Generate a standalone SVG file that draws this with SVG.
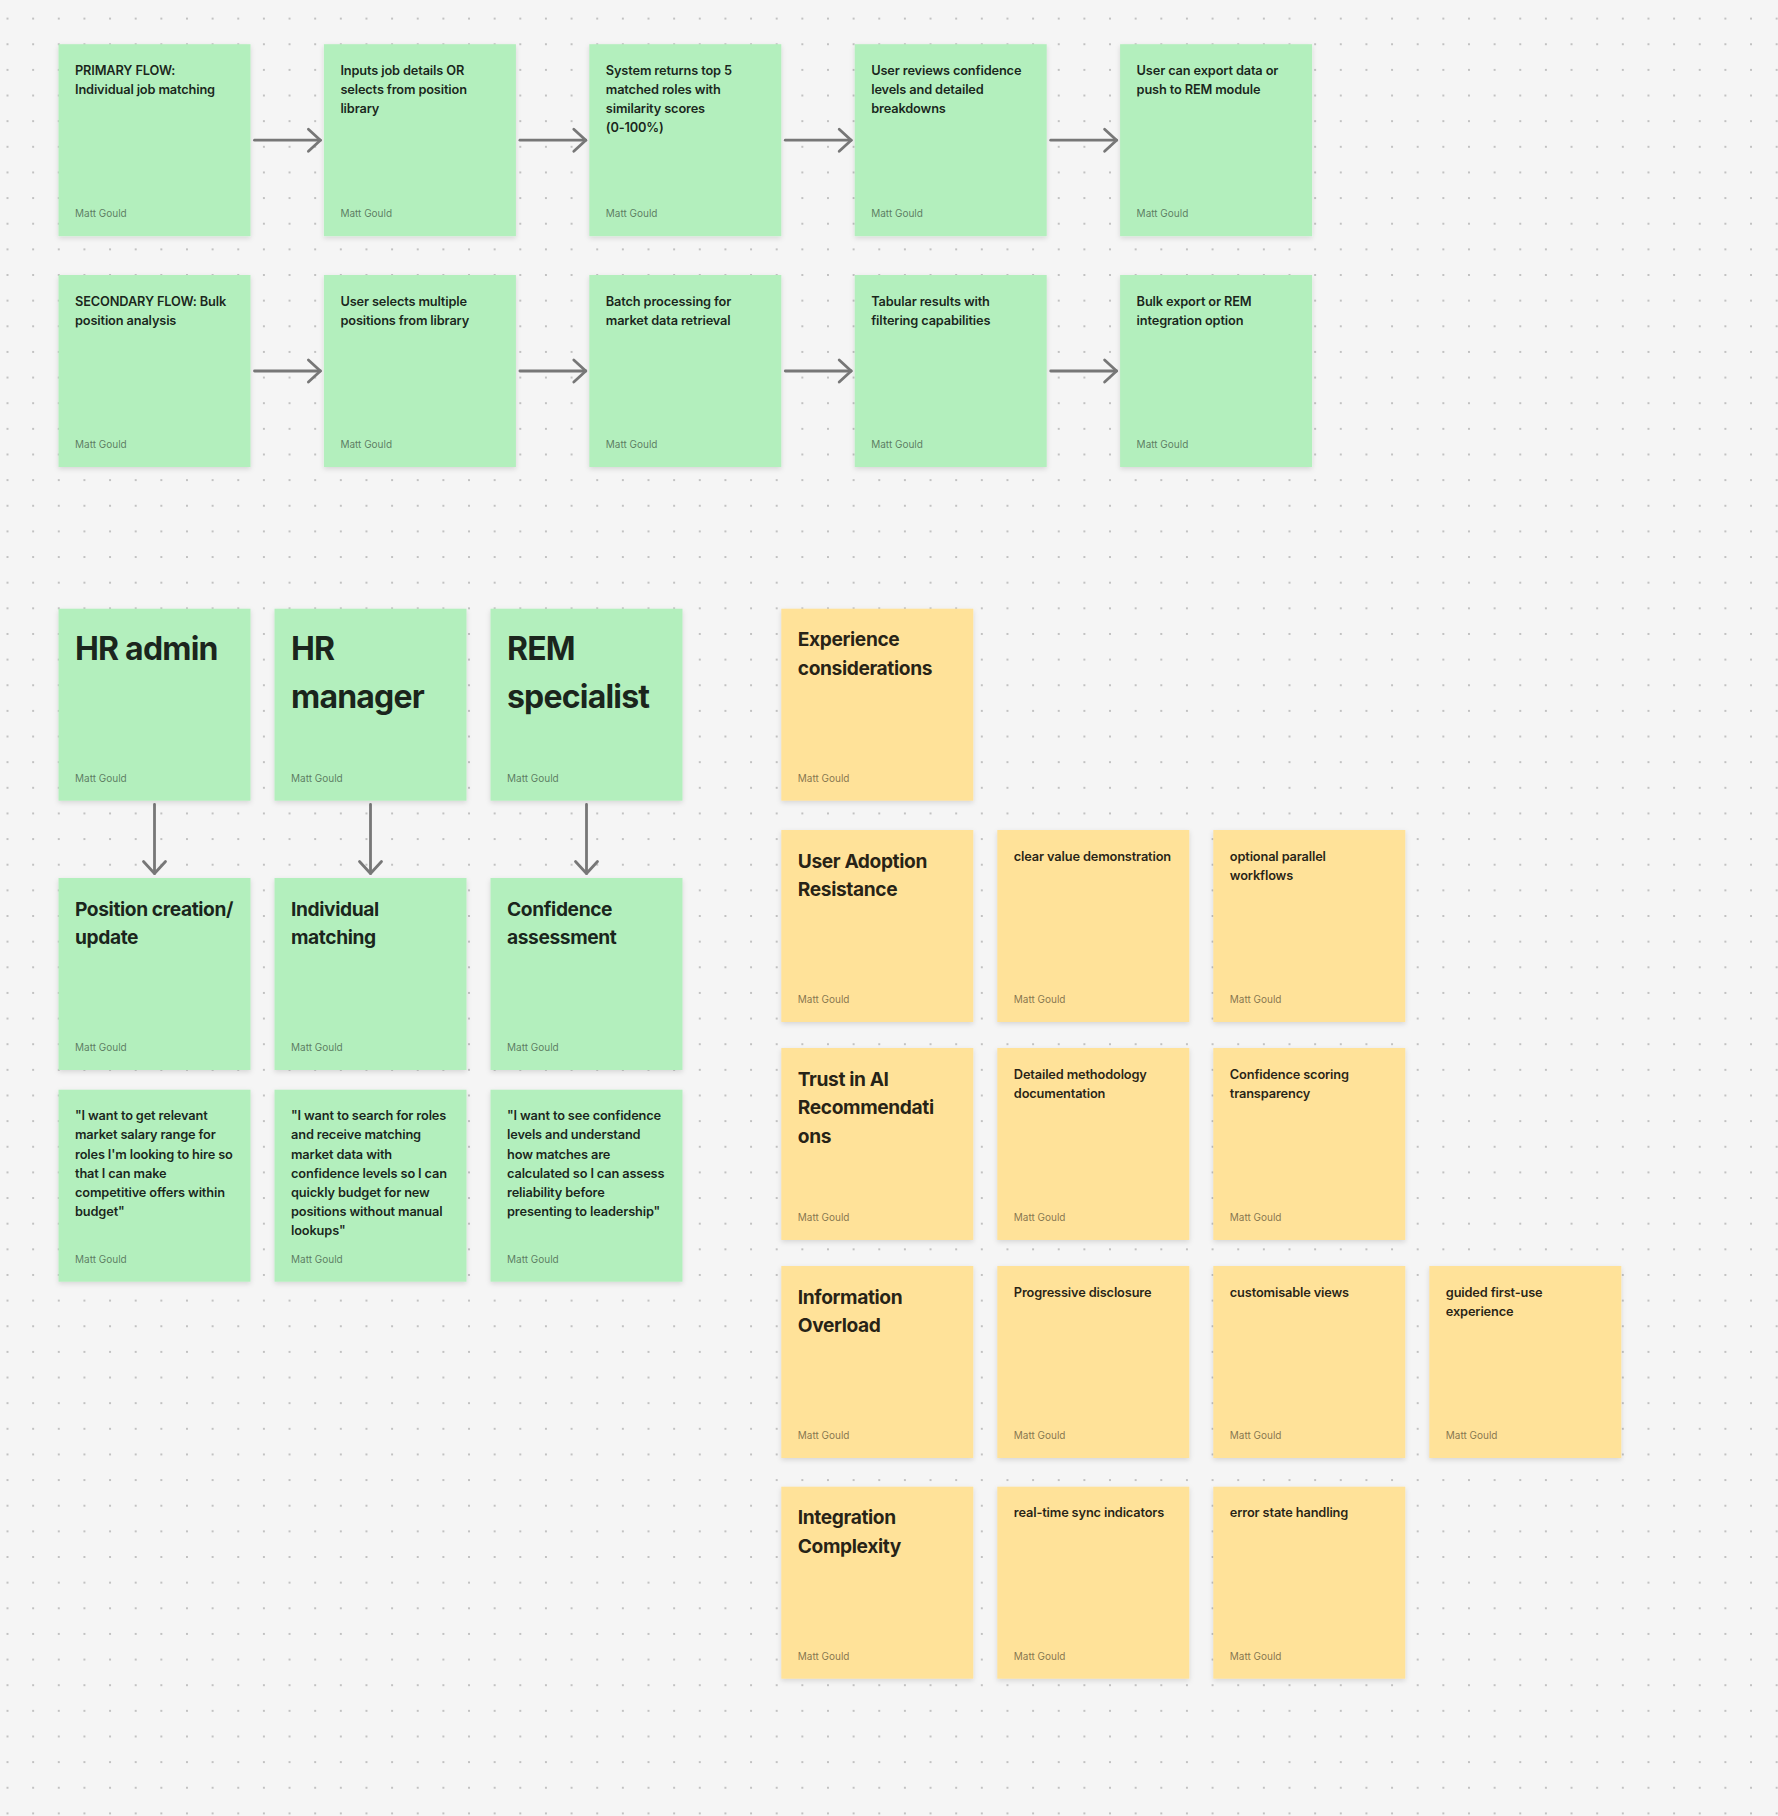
<svg xmlns="http://www.w3.org/2000/svg" width="1778" height="1816" viewBox="0 0 1778 1816">
<defs>
<pattern id="dots" patternUnits="userSpaceOnUse" x="-5.32" y="5.78" width="25.64" height="25.64">
<circle cx="12.82" cy="12.82" r="1.05" fill="#b5b5b5"/>
</pattern>
<filter id="sh" x="-10%" y="-10%" width="120%" height="125%">
<feDropShadow dx="0" dy="2" stdDeviation="2.5" flood-color="#000" flood-opacity="0.13"/>
</filter>
<marker id="arr" markerUnits="userSpaceOnUse" viewBox="-16 -14 20 28" refX="0" refY="0" markerWidth="20" markerHeight="28" orient="auto" overflow="visible">
<path d="M-12,-11 L0,0 L-12,11" fill="none" stroke="#777777" stroke-width="2.8" stroke-linecap="round" stroke-linejoin="round"/>
</marker>
<style>
.g{fill:#B3EFBD;filter:url(#sh)}
.y{fill:#FFE299;filter:url(#sh)}
text{font-family:Inter,"Liberation Sans",sans-serif}
.s{font-size:12.8px;font-weight:600;letter-spacing:-0.15px;fill:#000;fill-opacity:0.86}
.m{font-size:19.2px;font-weight:700;letter-spacing:-0.4px;fill:#000;fill-opacity:0.86}
.l{font-size:32px;font-weight:700;letter-spacing:-0.8px;fill:#000;fill-opacity:0.86}
.a{font-size:10px;font-weight:400;fill:#000;fill-opacity:0.5}
.c{fill:none;stroke:#777777;stroke-width:2.8;stroke-linecap:round;marker-end:url(#arr)}
</style>
</defs>
<rect width="1778" height="1816" fill="#F5F5F5"/>
<rect width="1778" height="1816" fill="url(#dots)"/>

<g id="connectors">
<path class="c" d="M254.5,140.2 H320.4"/>
<path class="c" d="M519.9,140.2 H585.8"/>
<path class="c" d="M785.3,140.2 H851.2"/>
<path class="c" d="M1050.7,140.2 H1116.6"/>
<path class="c" d="M254.5,371 H320.4"/>
<path class="c" d="M519.9,371 H585.8"/>
<path class="c" d="M785.3,371 H851.2"/>
<path class="c" d="M1050.7,371 H1116.6"/>
<path class="c" d="M154.5,804.5 V873.5"/>
<path class="c" d="M370.5,804.5 V873.5"/>
<path class="c" d="M586.5,804.5 V873.5"/>
</g>

<!-- Primary flow -->
<g id="primary-flow" transform="translate(58.5,44.2)">
<rect class="g" width="192" height="192"/>
<text class="s" x="16.5" y="30.5"><tspan x="16.5">PRIMARY FLOW:</tspan><tspan x="16.5" dy="19.2">Individual job matching</tspan></text>
<text class="a" x="16.5" y="173">Matt Gould</text>
</g>
<g id="inputs-job-details" transform="translate(323.9,44.2)">
<rect class="g" width="192" height="192"/>
<text class="s" x="16.5" y="30.5"><tspan x="16.5">Inputs job details OR</tspan><tspan x="16.5" dy="19.2">selects from position</tspan><tspan x="16.5" dy="19.2">library</tspan></text>
<text class="a" x="16.5" y="173">Matt Gould</text>
</g>
<g id="system-returns" transform="translate(589.3,44.2)">
<rect class="g" width="192" height="192"/>
<text class="s" x="16.5" y="30.5"><tspan x="16.5">System returns top 5</tspan><tspan x="16.5" dy="19.2">matched roles with</tspan><tspan x="16.5" dy="19.2">similarity scores</tspan><tspan x="16.5" dy="19.2">(0-100%)</tspan></text>
<text class="a" x="16.5" y="173">Matt Gould</text>
</g>
<g id="user-reviews" transform="translate(854.7,44.2)">
<rect class="g" width="192" height="192"/>
<text class="s" x="16.5" y="30.5"><tspan x="16.5">User reviews confidence</tspan><tspan x="16.5" dy="19.2">levels and detailed</tspan><tspan x="16.5" dy="19.2">breakdowns</tspan></text>
<text class="a" x="16.5" y="173">Matt Gould</text>
</g>
<g id="user-export" transform="translate(1120.1,44.2)">
<rect class="g" width="192" height="192"/>
<text class="s" x="16.5" y="30.5"><tspan x="16.5">User can export data or</tspan><tspan x="16.5" dy="19.2">push to REM module</tspan></text>
<text class="a" x="16.5" y="173">Matt Gould</text>
</g>

<!-- Secondary flow -->
<g id="secondary-flow" transform="translate(58.5,275)">
<rect class="g" width="192" height="192"/>
<text class="s" x="16.5" y="30.5"><tspan x="16.5">SECONDARY FLOW: Bulk</tspan><tspan x="16.5" dy="19.2">position analysis</tspan></text>
<text class="a" x="16.5" y="173">Matt Gould</text>
</g>
<g id="user-selects" transform="translate(323.9,275)">
<rect class="g" width="192" height="192"/>
<text class="s" x="16.5" y="30.5"><tspan x="16.5">User selects multiple</tspan><tspan x="16.5" dy="19.2">positions from library</tspan></text>
<text class="a" x="16.5" y="173">Matt Gould</text>
</g>
<g id="batch-processing" transform="translate(589.3,275)">
<rect class="g" width="192" height="192"/>
<text class="s" x="16.5" y="30.5"><tspan x="16.5">Batch processing for</tspan><tspan x="16.5" dy="19.2">market data retrieval</tspan></text>
<text class="a" x="16.5" y="173">Matt Gould</text>
</g>
<g id="tabular-results" transform="translate(854.7,275)">
<rect class="g" width="192" height="192"/>
<text class="s" x="16.5" y="30.5"><tspan x="16.5">Tabular results with</tspan><tspan x="16.5" dy="19.2">filtering capabilities</tspan></text>
<text class="a" x="16.5" y="173">Matt Gould</text>
</g>
<g id="bulk-export" transform="translate(1120.1,275)">
<rect class="g" width="192" height="192"/>
<text class="s" x="16.5" y="30.5"><tspan x="16.5">Bulk export or REM</tspan><tspan x="16.5" dy="19.2">integration option</tspan></text>
<text class="a" x="16.5" y="173">Matt Gould</text>
</g>

<!-- Personas -->
<g id="hr-admin" transform="translate(58.5,608.7)">
<rect class="g" width="192" height="192"/>
<text class="l" x="16.5" y="51.7">HR admin</text>
<text class="a" x="16.5" y="173">Matt Gould</text>
</g>
<g id="hr-manager" transform="translate(274.5,608.7)">
<rect class="g" width="192" height="192"/>
<text class="l" x="16.5" y="51.7"><tspan x="16.5">HR</tspan><tspan x="16.5" dy="48">manager</tspan></text>
<text class="a" x="16.5" y="173">Matt Gould</text>
</g>
<g id="rem-specialist" transform="translate(490.5,608.7)">
<rect class="g" width="192" height="192"/>
<text class="l" x="16.5" y="51.7"><tspan x="16.5">REM</tspan><tspan x="16.5" dy="48">specialist</tspan></text>
<text class="a" x="16.5" y="173">Matt Gould</text>
</g>

<g id="position-creation" transform="translate(58.5,878)">
<rect class="g" width="192" height="192"/>
<text class="m" x="16.5" y="37.5"><tspan x="16.5">Position creation/</tspan><tspan x="16.5" dy="28.8">update</tspan></text>
<text class="a" x="16.5" y="173">Matt Gould</text>
</g>
<g id="individual-matching" transform="translate(274.5,878)">
<rect class="g" width="192" height="192"/>
<text class="m" x="16.5" y="37.5"><tspan x="16.5">Individual</tspan><tspan x="16.5" dy="28.8">matching</tspan></text>
<text class="a" x="16.5" y="173">Matt Gould</text>
</g>
<g id="confidence-assessment" transform="translate(490.5,878)">
<rect class="g" width="192" height="192"/>
<text class="m" x="16.5" y="37.5"><tspan x="16.5">Confidence</tspan><tspan x="16.5" dy="28.8">assessment</tspan></text>
<text class="a" x="16.5" y="173">Matt Gould</text>
</g>

<g id="quote-hr-admin" transform="translate(58.5,1089.7)">
<rect class="g" width="192" height="192"/>
<text class="s" x="16.5" y="30.5"><tspan x="16.5">"I want to get relevant</tspan><tspan x="16.5" dy="19.2">market salary range for</tspan><tspan x="16.5" dy="19.2">roles I'm looking to hire so</tspan><tspan x="16.5" dy="19.2">that I can make</tspan><tspan x="16.5" dy="19.2">competitive offers within</tspan><tspan x="16.5" dy="19.2">budget"</tspan></text>
<text class="a" x="16.5" y="173">Matt Gould</text>
</g>
<g id="quote-hr-manager" transform="translate(274.5,1089.7)">
<rect class="g" width="192" height="192"/>
<text class="s" x="16.5" y="30.5"><tspan x="16.5">"I want to search for roles</tspan><tspan x="16.5" dy="19.2">and receive matching</tspan><tspan x="16.5" dy="19.2">market data with</tspan><tspan x="16.5" dy="19.2">confidence levels so I can</tspan><tspan x="16.5" dy="19.2">quickly budget for new</tspan><tspan x="16.5" dy="19.2">positions without manual</tspan><tspan x="16.5" dy="19.2">lookups"</tspan></text>
<text class="a" x="16.5" y="173">Matt Gould</text>
</g>
<g id="quote-rem-specialist" transform="translate(490.5,1089.7)">
<rect class="g" width="192" height="192"/>
<text class="s" x="16.5" y="30.5"><tspan x="16.5">"I want to see confidence</tspan><tspan x="16.5" dy="19.2">levels and understand</tspan><tspan x="16.5" dy="19.2">how matches are</tspan><tspan x="16.5" dy="19.2">calculated so I can assess</tspan><tspan x="16.5" dy="19.2">reliability before</tspan><tspan x="16.5" dy="19.2">presenting to leadership"</tspan></text>
<text class="a" x="16.5" y="173">Matt Gould</text>
</g>

<!-- Experience considerations -->
<g id="experience-considerations" transform="translate(781.3,608.7)">
<rect class="y" width="192" height="192"/>
<text class="m" x="16.5" y="37.5"><tspan x="16.5">Experience</tspan><tspan x="16.5" dy="28.8">considerations</tspan></text>
<text class="a" x="16.5" y="173">Matt Gould</text>
</g>

<g id="user-adoption-resistance" transform="translate(781.3,830)">
<rect class="y" width="192" height="192"/>
<text class="m" x="16.5" y="37.5"><tspan x="16.5">User Adoption</tspan><tspan x="16.5" dy="28.8">Resistance</tspan></text>
<text class="a" x="16.5" y="173">Matt Gould</text>
</g>
<g id="clear-value" transform="translate(997.3,830)">
<rect class="y" width="192" height="192"/>
<text class="s" x="16.5" y="30.5">clear value demonstration</text>
<text class="a" x="16.5" y="173">Matt Gould</text>
</g>
<g id="optional-parallel" transform="translate(1213.3,830)">
<rect class="y" width="192" height="192"/>
<text class="s" x="16.5" y="30.5"><tspan x="16.5">optional parallel</tspan><tspan x="16.5" dy="19.2">workflows</tspan></text>
<text class="a" x="16.5" y="173">Matt Gould</text>
</g>

<g id="trust-in-ai" transform="translate(781.3,1048)">
<rect class="y" width="192" height="192"/>
<text class="m" x="16.5" y="37.5"><tspan x="16.5">Trust in AI</tspan><tspan x="16.5" dy="28.8">Recommendati</tspan><tspan x="16.5" dy="28.8">ons</tspan></text>
<text class="a" x="16.5" y="173">Matt Gould</text>
</g>
<g id="detailed-methodology" transform="translate(997.3,1048)">
<rect class="y" width="192" height="192"/>
<text class="s" x="16.5" y="30.5"><tspan x="16.5">Detailed methodology</tspan><tspan x="16.5" dy="19.2">documentation</tspan></text>
<text class="a" x="16.5" y="173">Matt Gould</text>
</g>
<g id="confidence-scoring" transform="translate(1213.3,1048)">
<rect class="y" width="192" height="192"/>
<text class="s" x="16.5" y="30.5"><tspan x="16.5">Confidence scoring</tspan><tspan x="16.5" dy="19.2">transparency</tspan></text>
<text class="a" x="16.5" y="173">Matt Gould</text>
</g>

<g id="information-overload" transform="translate(781.3,1266)">
<rect class="y" width="192" height="192"/>
<text class="m" x="16.5" y="37.5"><tspan x="16.5">Information</tspan><tspan x="16.5" dy="28.8">Overload</tspan></text>
<text class="a" x="16.5" y="173">Matt Gould</text>
</g>
<g id="progressive-disclosure" transform="translate(997.3,1266)">
<rect class="y" width="192" height="192"/>
<text class="s" x="16.5" y="30.5">Progressive disclosure</text>
<text class="a" x="16.5" y="173">Matt Gould</text>
</g>
<g id="customisable-views" transform="translate(1213.3,1266)">
<rect class="y" width="192" height="192"/>
<text class="s" x="16.5" y="30.5">customisable views</text>
<text class="a" x="16.5" y="173">Matt Gould</text>
</g>
<g id="guided-first-use" transform="translate(1429.3,1266)">
<rect class="y" width="192" height="192"/>
<text class="s" x="16.5" y="30.5"><tspan x="16.5">guided first-use</tspan><tspan x="16.5" dy="19.2">experience</tspan></text>
<text class="a" x="16.5" y="173">Matt Gould</text>
</g>

<g id="integration-complexity" transform="translate(781.3,1486.7)">
<rect class="y" width="192" height="192"/>
<text class="m" x="16.5" y="37.5"><tspan x="16.5">Integration</tspan><tspan x="16.5" dy="28.8">Complexity</tspan></text>
<text class="a" x="16.5" y="173">Matt Gould</text>
</g>
<g id="real-time-sync" transform="translate(997.3,1486.7)">
<rect class="y" width="192" height="192"/>
<text class="s" x="16.5" y="30.5">real-time sync indicators</text>
<text class="a" x="16.5" y="173">Matt Gould</text>
</g>
<g id="error-state" transform="translate(1213.3,1486.7)">
<rect class="y" width="192" height="192"/>
<text class="s" x="16.5" y="30.5">error state handling</text>
<text class="a" x="16.5" y="173">Matt Gould</text>
</g>
</svg>
